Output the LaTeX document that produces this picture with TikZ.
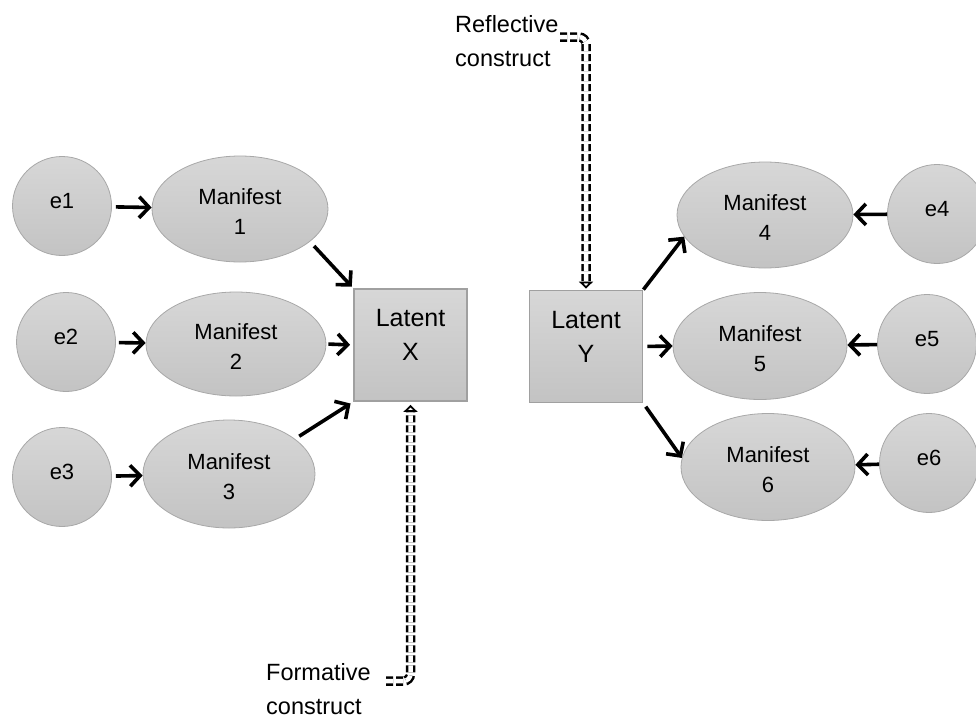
\documentclass[tikz,border=0pt]{standalone}
\usepackage{fontspec}
\setmainfont{Liberation Sans}
\usetikzlibrary{arrows.meta,shapes.geometric}
\definecolor{blobtop}{HTML}{D7D7D7}
\definecolor{blobbot}{HTML}{C3C3C3}
\definecolor{blobline}{HTML}{A8A8A8}
\definecolor{boxline}{HTML}{A0A0A0}

\begin{document}
\begin{tikzpicture}[x=1pt,y=-1pt,
  blob/.style={draw=blobline, line width=0.8pt, top color=blobtop, bottom color=blobbot, inner sep=0pt},
  errnode/.style={blob, circle, minimum size=99pt},
  manifest/.style={blob, ellipse, minimum width=176pt, minimum height=106pt},
  latent/.style={draw=boxline, line width=1.8pt, top color=blobtop, bottom color=blobbot,
                 minimum width=113pt, minimum height=112pt, inner sep=0pt},
  txt/.style={font=\fontsize{22}{30}\selectfont, align=center, inner sep=0pt},
  bigtxt/.style={font=\fontsize{25}{34}\selectfont, align=center, inner sep=0pt},
  note/.style={font=\fontsize{23.5}{34}\selectfont, align=left, inner sep=0pt},
  link/.style={line width=3.6pt, -{Straight Barb[length=10pt,width=21pt]}},
  dbl/.style={double=white, double distance=4.5pt, line width=2.5pt, dash pattern=on 7pt off 3pt,
              rounded corners=7pt, -{Triangle[open,length=7pt,width=14pt,line width=1.8pt]}}
]
\useasboundingbox (0,0) rectangle (976,720);

% error terms, left side
\node[errnode, label={[txt, yshift=5pt]center:e1}] (e1) at (62,206) {};
\node[errnode, label={[txt, yshift=5pt]center:e2}] (e2) at (66,342) {};
\node[errnode, label={[txt, yshift=5pt]center:e3}] (e3) at (62,477) {};

% manifest variables, left side
\node[manifest, label={[txt, yshift=-3pt]center:Manifest\\1}] (m1) at (240,209) {};
\node[manifest, minimum width=180pt, minimum height=104pt,
      label={[txt, yshift=-3pt]center:Manifest\\2}] (m2) at (236,344) {};
\node[manifest, minimum width=172pt, minimum height=108pt,
      label={[txt, yshift=-3pt]center:Manifest\\3}] (m3) at (229,474) {};

% latent constructs
\node[latent, label={[bigtxt, yshift=10pt]center:Latent\\X}] (lx) at (410.5,345) {};
\node[latent, label={[bigtxt, yshift=10pt]center:Latent\\Y}] (ly) at (586,346.5) {};

% manifest variables, right side
\node[manifest, label={[txt, yshift=-3pt]center:Manifest\\4}] (m4) at (765,215) {};
\node[manifest, minimum width=174pt, minimum height=107pt,
      label={[txt, yshift=-3pt]center:Manifest\\5}] (m5) at (760,346) {};
\node[manifest, minimum width=174pt, minimum height=107pt,
      label={[txt, yshift=-3pt]center:Manifest\\6}] (m6) at (768,467) {};

% error terms, right side
\node[errnode, label={[txt, yshift=5pt]center:e4}] (e4) at (937,214) {};
\node[errnode, label={[txt, yshift=5pt]center:e5}] (e5) at (927,344) {};
\node[errnode, label={[txt, yshift=5pt]center:e6}] (e6) at (929,463) {};

% error -> manifest
\draw[link, shorten <=4pt] (e1) -- (m1);
\draw[link, shorten <=3pt] (e2) -- (m2);
\draw[link, shorten <=4pt] (e3) -- (m3);
\draw[link] (e4) -- (m4);
\draw[link] (e5) -- (m5);
\draw[link] (e6) -- (m6);

% formative: manifest -> latent X
\draw[link, shorten <=6pt, shorten >=2pt] (m1.-25) -- (lx.north west);
\draw[link, shorten <=2pt, shorten >=3pt] (m2.east) -- (lx.west);
\draw[link, shorten <=5pt, shorten >=3pt] (m3.28) -- (lx.south west);

% reflective: latent Y -> manifest
\draw[link] (ly.north east) -- (m4.195);
\draw[link, shorten <=4pt] (ly.east) -- (m5.west);
\draw[link, shorten <=4pt] (ly.south east) -- (m6.174);

% callouts
\node[note, anchor=west] (refl) at (455,41) {Reflective\\construct};
\coordinate (reflhook) at (560,37);
\draw[dbl, shorten >=1pt] (reflhook) -| (ly.north);

\node[note, anchor=west] (form) at (266,689) {Formative\\construct};
\coordinate (formhook) at (386,681);
\draw[dbl, shorten >=3pt] (formhook) -| (lx.south);
\end{tikzpicture}
\end{document}
